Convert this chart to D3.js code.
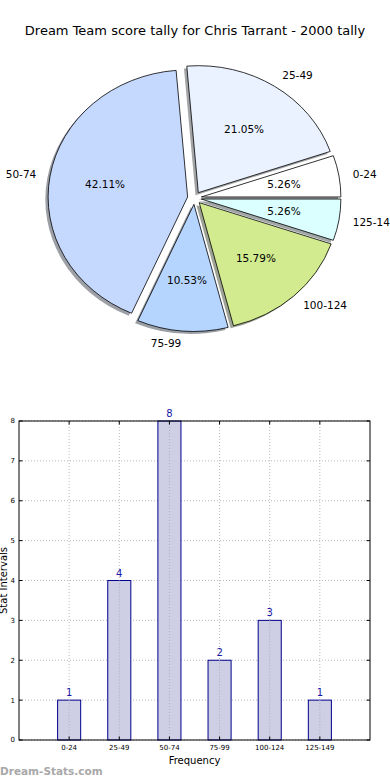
<!DOCTYPE html>
<html><head><meta charset="utf-8">
<script src="https://cdn.jsdelivr.net/npm/d3@7"></script>
<style>body{margin:0;background:#fff}svg{display:block;font-family:"DejaVu Sans",sans-serif}</style>
</head><body><svg id="c" width="390" height="780"></svg>
<script>
const categories = ["0-24","25-49","50-74","75-99","100-124","125-149"];
const counts = [1,4,8,2,3,1];
const pieColors = ["#ffffff","#eaf2ff","#c5d9ff","#b5d5ff","#d1eb8e","#dbffff"];
const yTicks = [0,1,2,3,4,5,6,7,8];
const title = "Dream Team score tally for Chris Tarrant - 2000 tally";

const svg = d3.select("#c");
svg.append("rect").attr("width",390).attr("height",780).attr("fill","#fff");
svg.append("text").attr("x",195).attr("y",35).attr("text-anchor","middle")
  .attr("font-size",13).attr("fill","#000").text(title);

// ---- Pie ----
const cx = 194.5, cy = 198, rx = 139.5, ry = 127, sy = ry/rx, explode = 0.05;
const total = d3.sum(counts);
const pie = d3.pie().sort(null).startAngle(Math.PI/2).endAngle(Math.PI/2 - 2*Math.PI);
const arcs = pie(counts);
const arc = d3.arc().innerRadius(0).outerRadius(rx);
const g = svg.append("g");
function off(d, k){ const a=(d.startAngle+d.endAngle)/2; return [Math.sin(a)*k*rx, -Math.cos(a)*k*rx*sy]; }
// shadows
arcs.forEach((d,i)=>{
  const [ox,oy] = off(d, explode);
  const c = d3.rgb(pieColors[i]);
  g.append("path").attr("d",arc(d))
    .attr("transform",`translate(${cx+ox-2.8},${cy+oy+2.5}) scale(1,${sy})`)
    .attr("fill",d3.rgb(c.r*0.3,c.g*0.3,c.b*0.3)).attr("fill-opacity",0.5)
    .attr("stroke","none");
});
arcs.forEach((d,i)=>{
  const [ox,oy] = off(d, explode);
  g.append("path").attr("d",arc(d))
    .attr("transform",`translate(${cx+ox},${cy+oy}) scale(1,${sy})`)
    .attr("fill",pieColors[i]).attr("stroke","#000").attr("stroke-width",0.8)
    .attr("vector-effect","non-scaling-stroke").attr("stroke-linejoin","miter");
});
arcs.forEach((d,i)=>{
  const [lx,ly] = off(d, explode+1.1);
  g.append("text").attr("x",cx+lx).attr("y",cy+ly).attr("dy","0.35em")
    .attr("text-anchor", lx>0 ? "start":"end").attr("font-size",10.5).text(categories[i]);
  const [px,py] = off(d, explode+0.6);
  g.append("text").attr("x",cx+px).attr("y",cy+py).attr("dy","0.35em")
    .attr("text-anchor","middle").attr("font-size",10.5)
    .text((100*d.value/total).toFixed(2)+"%");
});

// ---- Bar chart ----
const L=19,R=370,T=421,B=740;
const x = d3.scaleLinear().domain([-1,6]).range([L,R]);
const y = d3.scaleLinear().domain([0,8]).range([B,T]);
const bw = x(0.46)-x(0);
const bg = svg.append("g");
// grid
yTicks.forEach(t=>{
  bg.append("line").attr("x1",L).attr("x2",R).attr("y1",y(t)).attr("y2",y(t))
    .attr("stroke","#b8b8b8").attr("stroke-dasharray","1,2");
});
categories.forEach((c,i)=>{
  bg.append("line").attr("x1",x(i)).attr("x2",x(i)).attr("y1",T).attr("y2",B)
    .attr("stroke","#b8b8b8").attr("stroke-dasharray","1,2");
});
// bars
categories.forEach((c,i)=>{
  bg.append("rect").attr("x",x(i)-bw/2).attr("y",y(counts[i])).attr("width",bw)
    .attr("height",y(0)-y(counts[i])).attr("fill","#cbcbe3").attr("fill-opacity",0.95)
    .attr("stroke","#00008b").attr("stroke-width",1);
  bg.append("line").attr("x1",x(i)).attr("x2",x(i)).attr("y1",y(counts[i])).attr("y2",B)
    .attr("stroke","#b0b0c0").attr("stroke-dasharray","1,2");
  bg.append("text").attr("x",x(i)).attr("y",y(counts[i])-4).attr("text-anchor","middle")
    .attr("font-size",10).attr("fill","#1a1aa8").text(counts[i]);
});
// frame
bg.append("rect").attr("x",L).attr("y",T).attr("width",R-L).attr("height",B-T)
  .attr("fill","none").attr("stroke","#000").attr("stroke-width",1);
// ticks
yTicks.forEach(t=>{
  bg.append("line").attr("x1",L).attr("x2",L+3.5).attr("y1",y(t)).attr("y2",y(t)).attr("stroke","#000");
  bg.append("line").attr("x1",R-3.5).attr("x2",R).attr("y1",y(t)).attr("y2",y(t)).attr("stroke","#000");
  bg.append("text").attr("x",L-4).attr("y",y(t)).attr("dy","0.35em").attr("text-anchor","end")
    .attr("font-size",7).text(t);
});
categories.forEach((c,i)=>{
  bg.append("line").attr("x1",x(i)).attr("x2",x(i)).attr("y1",B).attr("y2",B-3.5).attr("stroke","#000");
  bg.append("line").attr("x1",x(i)).attr("x2",x(i)).attr("y1",T).attr("y2",T+3.5).attr("stroke","#000");
  bg.append("text").attr("x",x(i)).attr("y",B+10).attr("text-anchor","middle")
    .attr("font-size",7).text(c);
});
bg.append("text").attr("x",(L+R)/2).attr("y",764).attr("text-anchor","middle")
  .attr("font-size",10).text("Frequency");
bg.append("text").attr("transform",`translate(7,${(T+B)/2}) rotate(-90)`)
  .attr("text-anchor","middle").attr("font-size",10).text("Stat Intervals");
svg.append("text").attr("x",0).attr("y",775).attr("font-size",10.5).attr("font-weight","bold")
  .attr("fill","#a8a8a8").text("Dream-Stats.com");
</script></body></html>
